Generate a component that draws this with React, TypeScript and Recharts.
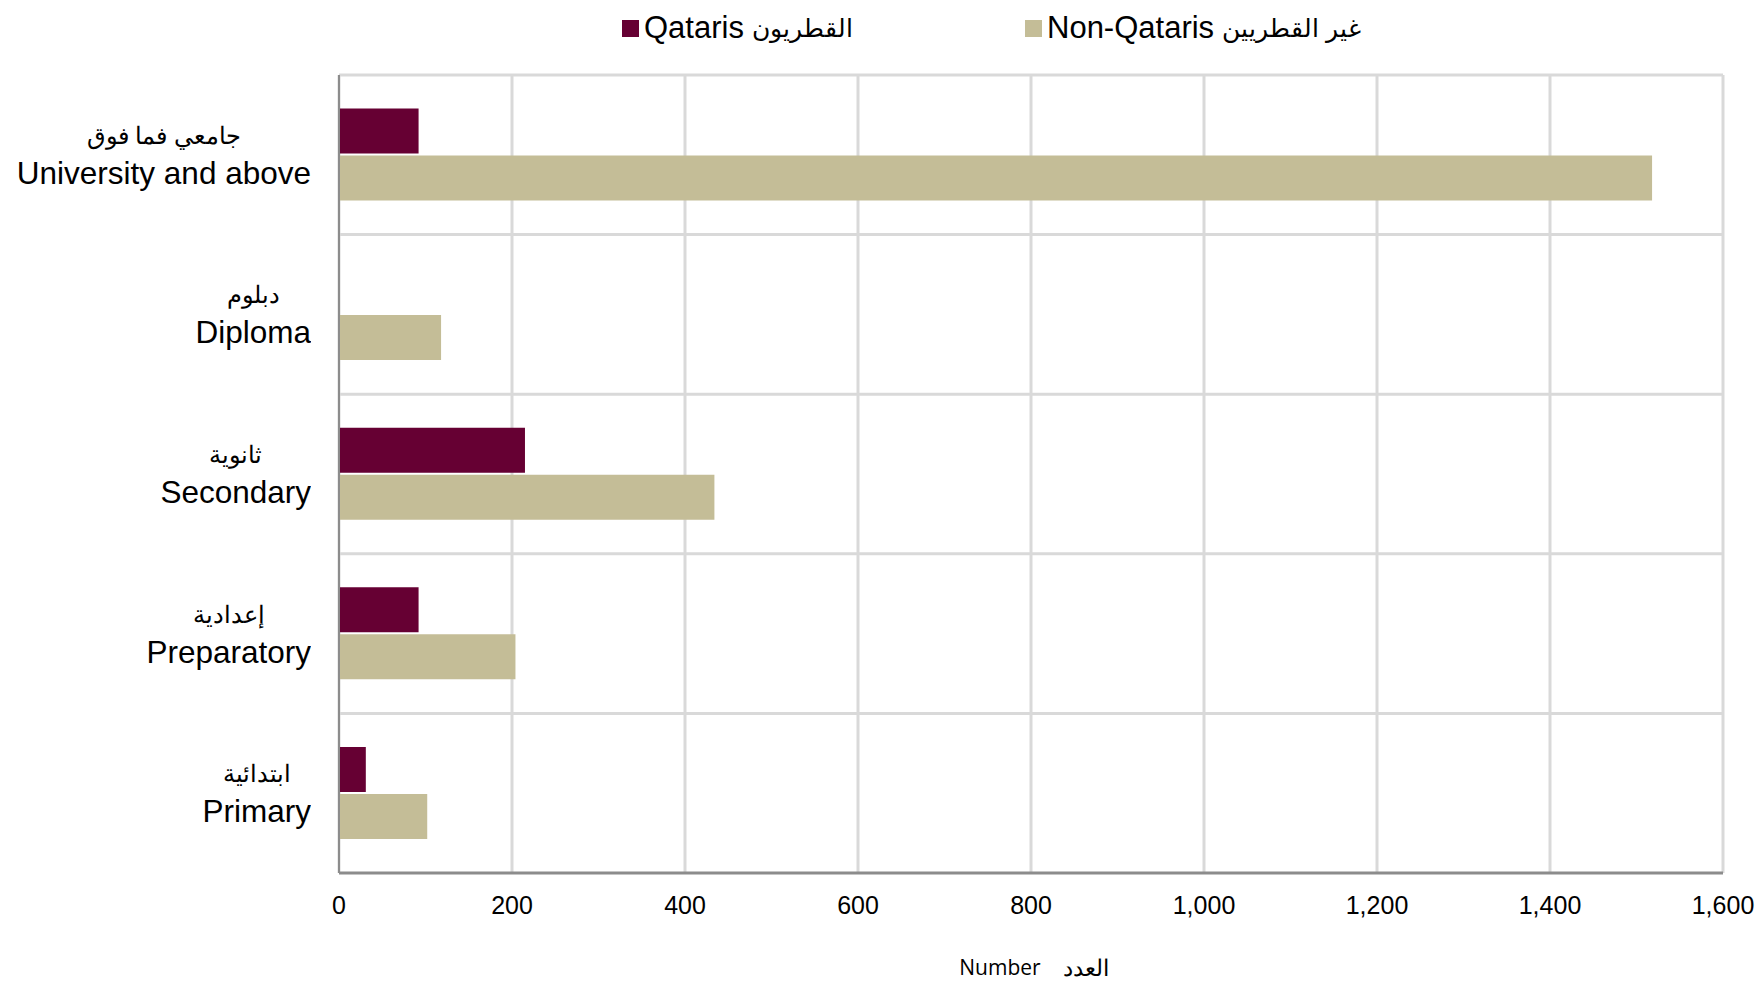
import { BarChart, Bar, XAxis, YAxis, CartesianGrid, Legend } from 'recharts'

// education levels, top to bottom
const categories = ['University and above', 'Diploma', 'Secondary', 'Preparatory', 'Primary']
const categoriesAr = ['جامعي فما فوق', 'دبلوم', 'ثانوية', 'إعدادية', 'ابتدائية']
const qataris = [92, 0, 215, 92, 31]
const nonQataris = [1518, 118, 434, 204, 102]
const xTicks = [0, 200, 400, 600, 800, 1000, 1200, 1400, 1600]

const seriesNames = ['Qataris', 'Non-Qataris']
const seriesNamesAr = ['القطريون', 'غير القطريين']
const colors = ['#660033', '#C4BD97']

const data = categories.map((c, i) => ({
    name: c,
    ar: categoriesAr[i],
    qataris: qataris[i],
    nonQataris: nonQataris[i]
}))

const latin = '"Liberation Sans", Arial, sans-serif'

function YTick(props: any) {
    const { y, payload, index } = props
    return (
        <foreignObject x={0} y={y - 50} width={311} height={100}>
            <div style={{ display: 'flex', justifyContent: 'flex-end', alignItems: 'center', height: '100%' }}>
                <div style={{ textAlign: 'center', fontFamily: latin, color: '#000', whiteSpace: 'nowrap' }}>
                    <div style={{ fontSize: 24, lineHeight: '36px' }}>{categoriesAr[index] ?? ''}</div>
                    <div style={{ fontSize: 31.5, lineHeight: '38px' }}>{payload.value}</div>
                </div>
            </div>
        </foreignObject>
    )
}

function LegendBox() {
    const lefts = [622, 1025]
    return (
        <div style={{ position: 'relative', width: 1763, height: 50 }}>
            {seriesNames.map((n, i) => (
                <div
                    key={n}
                    style={{
                        position: 'absolute',
                        left: lefts[i],
                        top: 0,
                        display: 'flex',
                        alignItems: 'center',
                        fontFamily: latin,
                        fontSize: 31,
                        color: '#000',
                        whiteSpace: 'nowrap'
                    }}
                >
                    <span style={{ width: 17, height: 17, background: colors[i], marginRight: 5, display: 'inline-block' }} />
                    <span>{n}</span>
                    <span style={{ fontSize: 25, marginLeft: 8 }}>{seriesNamesAr[i]}</span>
                </div>
            ))}
        </div>
    )
}

function AxisTitle(props: any) {
    const { viewBox } = props
    const cx = viewBox.x + viewBox.width / 2
    return (
        <text
            x={cx + 3}
            y={viewBox.y + 94}
            textAnchor="middle"
            dominantBaseline="central"
            fontFamily='"Open Sans", sans-serif'
            fontSize={21}
            fill="#000"
            style={{ whiteSpace: 'pre' }}
        >
            <tspan>Number</tspan>
            <tspan dx={22} fontSize={23}>العدد</tspan>
        </text>
    )
}

export default function App() {
    return (
        <div style={{ position: 'absolute', left: 0, top: 0, background: '#fff' }}>
            <BarChart
                width={1763}
                height={982}
                data={data}
                layout="vertical"
                margin={{ top: 75, right: 40, left: 0, bottom: 0 }}
                barCategoryGap="21%"
                barGap={2}
            >
                <CartesianGrid
                    stroke="#d9d9d9"
                    strokeWidth={3}
                    horizontalCoordinatesGenerator={({ offset }: any) =>
                        categories.map((_, i) => offset.top + (i * offset.height) / categories.length)
                    }
                />
                <XAxis
                    type="number"
                    domain={[0, 1600]}
                    ticks={xTicks}
                    tickFormatter={(v: number) => v.toLocaleString('en-US')}
                    axisLine={{ stroke: '#8c8c8c', strokeWidth: 3 }}
                    tickLine={false}
                    tickSize={0}
                    tickMargin={23}
                    height={109}
                    tick={{ fill: '#000', fontSize: 25, fontFamily: latin }}
                    interval={0}
                    label={{ content: AxisTitle }}
                />
                <YAxis
                    type="category"
                    dataKey="name"
                    width={339}
                    axisLine={{ stroke: '#8c8c8c', strokeWidth: 2 }}
                    tickLine={false}
                    tick={YTick}
                    interval={0}
                />
                <Legend
                    layout="horizontal"
                    verticalAlign="middle"
                    align="center"
                    wrapperStyle={{ top: 10, left: 0, width: 1763 }}
                    content={LegendBox}
                />
                <Bar dataKey="qataris" name={seriesNames[0]} fill={colors[0]} isAnimationActive={false} />
                <Bar dataKey="nonQataris" name={seriesNames[1]} fill={colors[1]} isAnimationActive={false} />
            </BarChart>
        </div>
    )
}
